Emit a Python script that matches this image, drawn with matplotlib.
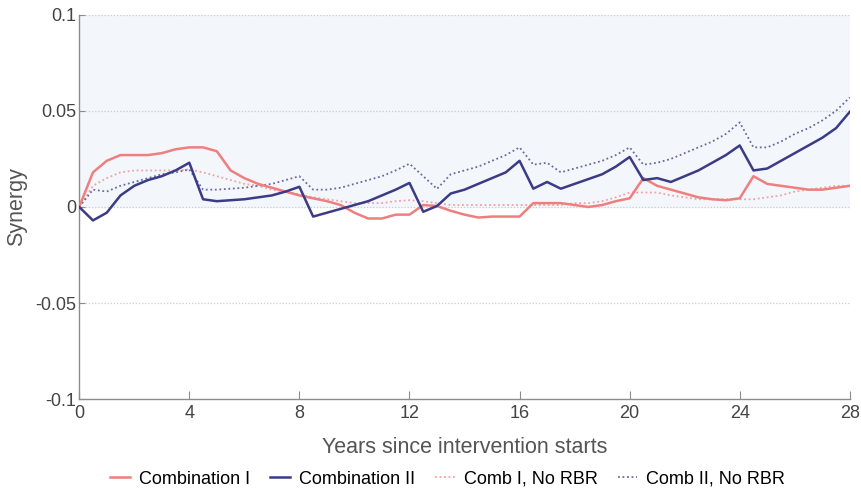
import matplotlib.pyplot as plt
import numpy as np

plt.rcParams['font.family'] = ['Liberation Sans', 'DejaVu Sans']

# half-year steps over 28 years
years = np.arange(0, 28.5, 0.5)

comb_1 = [0.000, 0.018, 0.024, 0.027, 0.027, 0.027, 0.028, 0.030, 0.031, 0.031,
          0.029, 0.019, 0.015, 0.012, 0.010, 0.008, 0.006, 0.0045, 0.003, 0.001,
          -0.003, -0.006, -0.006, -0.004, -0.004, 0.001, 0.0005, -0.002, -0.004, -0.0055,
          -0.005, -0.005, -0.005, 0.002, 0.002, 0.002, 0.001, 0.000, 0.001, 0.003,
          0.0045, 0.015, 0.011, 0.009, 0.007, 0.005, 0.004, 0.0035, 0.0045, 0.016,
          0.012, 0.011, 0.010, 0.009, 0.009, 0.010, 0.011]

comb_2 = [0.000, -0.007, -0.003, 0.006, 0.011, 0.014, 0.016, 0.019, 0.023, 0.004,
          0.003, 0.0035, 0.004, 0.005, 0.006, 0.008, 0.0105, -0.005, -0.003, -0.001,
          0.001, 0.003, 0.006, 0.009, 0.0125, -0.0025, 0.0005, 0.007, 0.009, 0.012,
          0.015, 0.018, 0.024, 0.0095, 0.013, 0.0095, 0.012, 0.0145, 0.017, 0.021,
          0.026, 0.014, 0.015, 0.013, 0.016, 0.019, 0.023, 0.027, 0.032, 0.019,
          0.020, 0.024, 0.028, 0.032, 0.036, 0.041, 0.0495]

comb_1_norbr = [0.000, 0.011, 0.015, 0.018, 0.019, 0.019, 0.019, 0.019, 0.0195, 0.018,
                0.016, 0.014, 0.012, 0.011, 0.009, 0.008, 0.0065, 0.005, 0.004, 0.003,
                0.002, 0.002, 0.002, 0.003, 0.0035, 0.003, 0.002, 0.001, 0.001, 0.001,
                0.001, 0.001, 0.001, 0.001, 0.001, 0.001, 0.002, 0.002, 0.003, 0.005,
                0.0075, 0.0075, 0.0075, 0.006, 0.005, 0.004, 0.004, 0.004, 0.004, 0.004,
                0.005, 0.006, 0.008, 0.009, 0.010, 0.011, 0.011]

comb_2_norbr = [0.000, 0.009, 0.008, 0.011, 0.013, 0.015, 0.017, 0.018, 0.0195, 0.009,
                0.009, 0.0095, 0.010, 0.011, 0.012, 0.014, 0.016, 0.009, 0.009, 0.010,
                0.012, 0.014, 0.016, 0.019, 0.0225, 0.016, 0.0094, 0.017, 0.019, 0.021,
                0.024, 0.027, 0.031, 0.022, 0.023, 0.018, 0.020, 0.022, 0.024, 0.027,
                0.031, 0.022, 0.023, 0.025, 0.028, 0.031, 0.034, 0.038, 0.044, 0.031,
                0.031, 0.034, 0.038, 0.041, 0.045, 0.050, 0.057]

red = '#ef7f7f'
navy = '#3b3b86'

fig = plt.figure(figsize=(8.61, 4.91), dpi=100)
ax = fig.add_axes([0.092, 0.187, 0.895, 0.783])

ax.axhspan(0, 0.1, color='#f3f7fb', zorder=0)
for yv in [0.1, 0.05, 0, -0.05]:
    ax.axhline(yv, color='#c8ccd4', lw=0.9, ls=(0, (1, 1.5)), zorder=1)

ax.plot(years, comb_1, color=red, lw=1.8, label='Combination I', zorder=3)
ax.plot(years, comb_2, color=navy, lw=1.8, label='Combination II', zorder=4)
ax.plot(years, comb_1_norbr, color='#f2a0a4', lw=1.3, ls=(0, (1, 1.5)), label='Comb I, No RBR', zorder=2)
ax.plot(years, comb_2_norbr, color='#6a6aa0', lw=1.3, ls=(0, (1, 1.5)), label='Comb II, No RBR', zorder=2)

ax.set_xlim(0, 28)
ax.set_ylim(-0.1, 0.1)
ax.set_xticks(range(0, 29, 4))
ax.set_yticks([-0.1, -0.05, 0, 0.05, 0.1])
ax.set_yticklabels(['-0.1', '-0.05', '0', '0.05', '0.1'])

for side in ['top', 'right']:
    ax.spines[side].set_visible(False)
for side in ['left', 'bottom']:
    ax.spines[side].set_color('#8c8c8c')
    ax.spines[side].set_linewidth(1.0)

ax.tick_params(axis='x', direction='in', length=6, color='#8c8c8c', labelsize=13, labelcolor='#444444', pad=4)
ax.tick_params(axis='y', direction='in', length=4, color='#8c8c8c', labelsize=13, labelcolor='#444444', pad=2)

ax.set_xlabel('Years since intervention starts', fontsize=15.5, color='#555555')
ax.set_ylabel('Synergy', fontsize=15.5, color='#555555')
ax.xaxis.set_label_coords(0.5, -0.098)
ax.yaxis.set_label_coords(-0.068, 0.5)

fig.legend(loc='center', bbox_to_anchor=(0.52, 0.024), ncol=4, frameon=False,
           fontsize=13, handlelength=1.1, handletextpad=0.5, columnspacing=1.1)

fig.savefig('out.png', dpi=100)
